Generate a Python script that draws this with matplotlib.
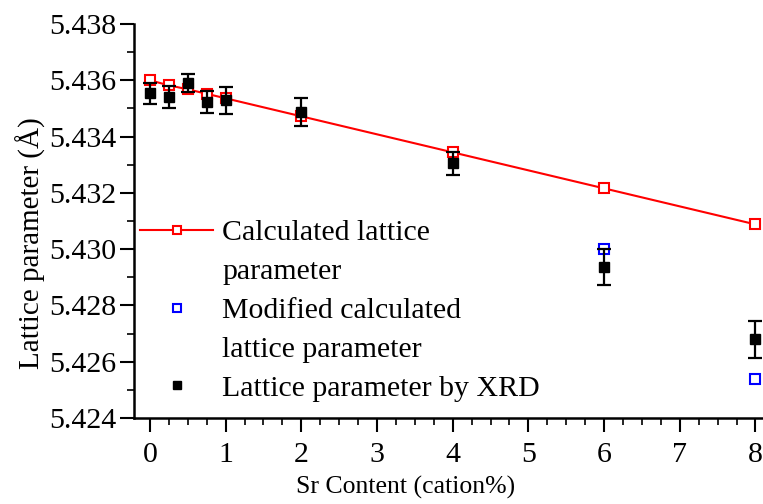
import matplotlib
matplotlib.use("Agg")
import matplotlib.pyplot as plt
from matplotlib.ticker import MultipleLocator, FormatStrFormatter
from matplotlib.lines import Line2D

plt.rcParams['font.family'] = ['Liberation Serif', 'DejaVu Serif']

x_calc = [0, 0.25, 0.5, 0.75, 1, 2, 4, 6, 8]
y_calc = [5.4360, 5.43582, 5.43568, 5.43552, 5.43536, 5.43472, 5.43344, 5.43216, 5.43088]

x_mod = [6, 8]
y_mod = [5.43002, 5.42538]

x_xrd = [0, 0.25, 0.5, 0.75, 1, 2, 4, 6, 8]
y_xrd = [5.43554, 5.43540, 5.43590, 5.43522, 5.43529, 5.43486, 5.43305, 5.42938, 5.42680]
err_xrd = [0.00037, 0.00040, 0.00032, 0.00040, 0.00048, 0.00050, 0.00040, 0.00064, 0.00066]

labels = ['Calculated lattice\nparameter', 'Modified calculated\nlattice parameter',
          'Lattice parameter by XRD']

fig = plt.figure(figsize=(7.63, 5.04), dpi=100)
ax = fig.add_axes([134/763, 86/504, 1 - 134/763, (418-24)/504])

l1, = ax.plot(x_calc, y_calc, color='red', lw=1.5, marker='s', ms=7.5, mfc='white',
              mec='red', mew=1.5, zorder=2)
l2, = ax.plot(x_mod, y_mod, ls='none', marker='s', ms=7.5, mfc='white', mec='blue',
              mew=1.5, zorder=2)
eb = ax.errorbar(x_xrd, y_xrd, yerr=err_xrd, fmt='s', color='black', ms=7.5,
                 ecolor='black', elinewidth=1.6, capsize=4.8, capthick=1.6, zorder=3)

ax.set_xlim(-0.21, 8.1)
ax.set_ylim(5.424, 5.438)
ax.xaxis.set_major_locator(MultipleLocator(1))
ax.xaxis.set_minor_locator(MultipleLocator(0.25))
ax.yaxis.set_major_locator(MultipleLocator(0.002))
ax.yaxis.set_minor_locator(MultipleLocator(0.001))
ax.yaxis.set_major_formatter(FormatStrFormatter('%.3f'))

for s in ['top', 'right']:
    ax.spines[s].set_visible(False)
for s in ['left', 'bottom']:
    ax.spines[s].set_linewidth(1.8)
ax.tick_params(which='major', direction='out', length=10, width=1.5, labelsize=21.5)
ax.tick_params(axis='x', which='major', pad=7)
ax.tick_params(axis='y', which='major', pad=3)
ax.tick_params(which='minor', direction='out', length=5, width=1.2)

ax.set_xlabel('Sr Content (cation%)', fontsize=18.5)
ax.set_ylabel('Lattice parameter (Å)', fontsize=21)
ax.xaxis.set_label_coords(0.431, -0.148)
ax.yaxis.set_label_coords(-0.14, 0.445)

blank = Line2D([], [], ls='none', marker='none')
handles = [l1, blank, l2, blank, eb[0]]
leg_labels = []
for lab in labels:
    leg_labels.extend(lab.split('\n'))
leg = ax.legend(handles, leg_labels, loc='upper left', bbox_to_anchor=(0.0095, 0.504),
                frameon=False, fontsize=21.5, handlelength=2.45, handletextpad=0.3,
                labelspacing=0.4, borderaxespad=0, borderpad=0, markerscale=0.8)

fig.savefig('out.png', dpi=100)
